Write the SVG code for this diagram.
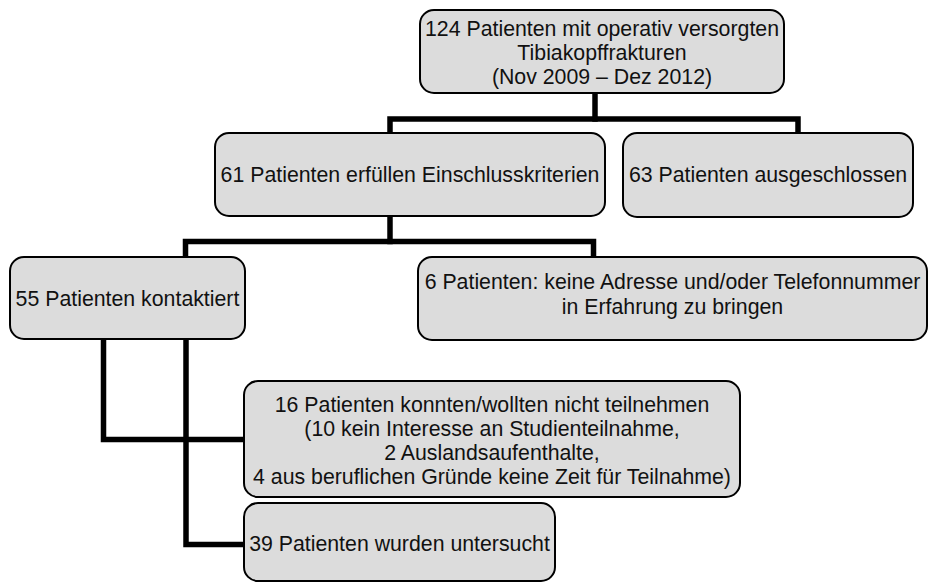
<svg xmlns="http://www.w3.org/2000/svg" width="928" height="583" viewBox="0 0 928 583">
<style>
.box{fill:#dcdcdc;stroke:#000;stroke-width:2}
.t{font-family:"Liberation Sans",Arial,sans-serif;font-size:21.3px;fill:#111;text-anchor:middle}
.c{fill:none;stroke:#000;stroke-width:5.5;stroke-linejoin:miter;stroke-linecap:square}
</style>
<rect width="928" height="583" fill="#fff"/>
<g id="connectors">
<path class="c" d="M595,93 V119"/>
<path class="c" d="M390,133 V119 H798 V133"/>
<path class="c" d="M390,216 V241.5"/>
<path class="c" d="M185.5,257 V241.5 H593.5 V257"/>
<path class="c" d="M103.5,339 V439.5 H244"/>
<path class="c" d="M186,339 V544.5 H244"/>
</g>
<g id="n1">
<rect class="box" x="420" y="10" width="364" height="83" rx="14"/>
<text class="t" x="602" y="36">124 Patienten mit operativ versorgten</text>
<text class="t" x="602" y="60">Tibiakopffrakturen</text>
<text class="t" x="602" y="84">(Nov 2009 – Dez 2012)</text>
</g>
<g id="n2">
<rect class="box" x="215" y="133" width="390" height="83" rx="14"/>
<text class="t" x="410" y="182">61 Patienten erfüllen Einschlusskriterien</text>
</g>
<g id="n3">
<rect class="box" x="623" y="133" width="290" height="84" rx="14"/>
<text class="t" x="768" y="182">63 Patienten ausgeschlossen</text>
</g>
<g id="n4">
<rect class="box" x="10" y="257" width="235" height="82" rx="14"/>
<text class="t" x="127.5" y="306">55 Patienten kontaktiert</text>
</g>
<g id="n5">
<rect class="box" x="418" y="257" width="509" height="83" rx="14"/>
<text class="t" x="672.5" y="289">6 Patienten: keine Adresse und/oder Telefonnummer</text>
<text class="t" x="672.5" y="314">in Erfahrung zu bringen</text>
</g>
<g id="n6">
<rect class="box" x="244" y="381" width="496" height="116" rx="14"/>
<text class="t" x="492" y="412">16 Patienten konnten/wollten nicht teilnehmen</text>
<text class="t" x="492" y="436">(10 kein Interesse an Studienteilnahme,</text>
<text class="t" x="492" y="460">2 Auslandsaufenthalte,</text>
<text class="t" x="492" y="484">4 aus beruflichen Gründe keine Zeit für Teilnahme)</text>
</g>
<g id="n7">
<rect class="box" x="244" y="503" width="311" height="78" rx="14"/>
<text class="t" x="399.5" y="551">39 Patienten wurden untersucht</text>
</g>
</svg>
